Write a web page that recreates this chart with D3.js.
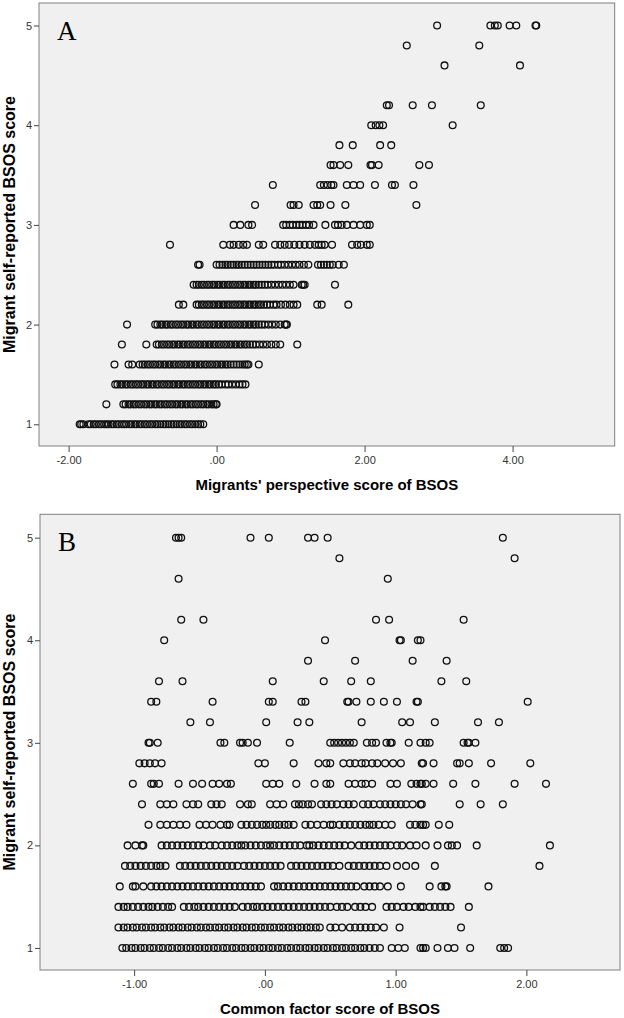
<!DOCTYPE html>
<html><head><meta charset="utf-8">
<script src="https://cdn.jsdelivr.net/npm/d3@7"></script>
<style>body{margin:0;background:#fff}svg{display:block}</style>
</head><body><svg id="c" width="624" height="1018"></svg>
<script>
const levelsA = [5.0, 4.8, 4.6, 4.4, 4.2, 4.0, 3.8, 3.6, 3.4, 3.2, 3.0, 2.8, 2.6, 2.4, 2.2, 2.0, 1.8, 1.6, 1.4, 1.2, 1.0];
const scoresA = [
 [2.98, 3.70, 3.76, 3.80, 3.96, 4.05, 4.31, 4.32],
 [2.57, 3.55],
 [3.08, 4.10],
 [],
 [2.30, 2.33, 2.65, 2.91, 3.57],
 [2.09, 2.15, 2.20, 2.25, 3.19],
 [1.66, 1.84, 2.21, 2.36],
 [1.54, 1.58, 1.67, 1.78, 2.08, 2.10, 2.19, 2.74, 2.87],
 [0.76, 1.40, 1.45, 1.50, 1.55, 1.58, 1.76, 1.85, 1.94, 2.14, 2.37, 2.41, 2.66],
 [0.52, 1.00, 1.04, 1.11, 1.31, 1.36, 1.40, 1.54, 1.74, 2.70],
 [0.23, 0.32, 0.43, 0.48, 0.90, 0.94, 0.99, 1.03, 1.08, 1.12, 1.16, 1.21, 1.25, 1.31, 1.47, 1.60, 1.64, 1.69, 1.76, 1.85, 1.94, 2.03, 2.07],
 [-0.63, 0.09, 0.18, 0.23, 0.30, 0.36, 0.41, 0.57, 0.63, 0.79, 0.86, 0.92, 0.98, 1.05, 1.12, 1.19, 1.26, 1.33, 1.38, 1.42, 1.46, 1.56, 1.83, 1.90, 1.95, 2.03, 2.07],
 [-0.25, -0.23, 0.00, 0.04, 0.08, 0.12, 0.15, 0.19, 0.23, 0.27, 0.30, 0.34, 0.38, 0.42, 0.46, 0.50, 0.54, 0.58, 0.62, 0.66, 0.70, 0.74, 0.78, 0.83, 0.87, 0.92, 0.97, 1.02, 1.07, 1.12, 1.18, 1.24, 1.37, 1.41, 1.45, 1.49, 1.53, 1.57, 1.65, 1.72],
 [-0.31, -0.27, -0.24, -0.20, -0.17, -0.13, -0.10, -0.06, -0.03, 0.01, 0.04, 0.08, 0.11, 0.15, 0.18, 0.22, 0.25, 0.29, 0.32, 0.36, 0.39, 0.43, 0.46, 0.50, 0.53, 0.57, 0.61, 0.65, 0.69, 0.74, 0.79, 0.84, 0.89, 0.94, 0.99, 1.04, 1.15, 1.17, 1.19, 1.60],
 [-0.51, -0.45, -0.27, -0.24, -0.20, -0.17, -0.13, -0.10, -0.06, -0.03, 0.01, 0.04, 0.08, 0.11, 0.15, 0.18, 0.22, 0.25, 0.29, 0.32, 0.36, 0.39, 0.43, 0.46, 0.50, 0.53, 0.57, 0.60, 0.64, 0.68, 0.72, 0.77, 0.81, 0.87, 0.93, 0.99, 1.04, 1.09, 1.36, 1.42, 1.78],
 [-1.21, -0.83, -0.80, -0.76, -0.73, -0.69, -0.66, -0.62, -0.59, -0.55, -0.52, -0.48, -0.45, -0.41, -0.38, -0.34, -0.31, -0.27, -0.24, -0.20, -0.17, -0.13, -0.10, -0.06, -0.03, 0.01, 0.04, 0.08, 0.11, 0.15, 0.18, 0.22, 0.25, 0.29, 0.32, 0.36, 0.39, 0.43, 0.46, 0.50, 0.53, 0.57, 0.61, 0.65, 0.70, 0.75, 0.80, 0.86, 0.92, 0.94, 0.95],
 [-1.28, -0.95, -0.81, -0.78, -0.74, -0.71, -0.67, -0.64, -0.60, -0.57, -0.53, -0.50, -0.46, -0.43, -0.39, -0.36, -0.32, -0.29, -0.25, -0.22, -0.18, -0.15, -0.11, -0.08, -0.04, -0.01, 0.03, 0.06, 0.10, 0.13, 0.17, 0.20, 0.24, 0.27, 0.31, 0.34, 0.38, 0.41, 0.45, 0.49, 0.53, 0.58, 0.63, 0.68, 0.74, 0.80, 0.86, 1.09],
 [-1.38, -1.19, -1.14, -1.04, -1.00, -0.97, -0.93, -0.90, -0.86, -0.83, -0.79, -0.76, -0.72, -0.69, -0.65, -0.62, -0.58, -0.55, -0.51, -0.48, -0.44, -0.41, -0.37, -0.34, -0.30, -0.27, -0.23, -0.20, -0.16, -0.13, -0.09, -0.06, -0.02, 0.01, 0.05, 0.08, 0.12, 0.15, 0.19, 0.23, 0.27, 0.31, 0.35, 0.38, 0.41, 0.43, 0.57],
 [-1.37, -1.34, -1.30, -1.27, -1.23, -1.20, -1.16, -1.13, -1.09, -1.06, -1.02, -0.99, -0.95, -0.92, -0.88, -0.85, -0.81, -0.78, -0.74, -0.71, -0.67, -0.64, -0.60, -0.57, -0.53, -0.50, -0.46, -0.43, -0.39, -0.36, -0.32, -0.29, -0.25, -0.22, -0.18, -0.15, -0.11, -0.08, -0.04, -0.01, 0.03, 0.07, 0.12, 0.16, 0.21, 0.26, 0.31, 0.35, 0.39],
 [-1.49, -1.26, -1.23, -1.19, -1.16, -1.12, -1.09, -1.05, -1.02, -0.98, -0.95, -0.91, -0.88, -0.84, -0.81, -0.77, -0.74, -0.70, -0.67, -0.63, -0.60, -0.56, -0.53, -0.49, -0.46, -0.42, -0.39, -0.35, -0.32, -0.28, -0.25, -0.21, -0.18, -0.14, -0.11, -0.07, -0.04, -0.01, 0.00],
 [-1.85, -1.83, -1.80, -1.73, -1.70, -1.66, -1.63, -1.59, -1.56, -1.52, -1.49, -1.46, -1.42, -1.39, -1.35, -1.32, -1.28, -1.25, -1.22, -1.18, -1.15, -1.11, -1.08, -1.04, -1.01, -0.97, -0.94, -0.90, -0.87, -0.83, -0.80, -0.76, -0.72, -0.69, -0.65, -0.61, -0.58, -0.54, -0.50, -0.47, -0.43, -0.40, -0.36, -0.33, -0.29, -0.25, -0.22, -0.18]
];

const levelsB = [5.0, 4.8, 4.6, 4.4, 4.2, 4.0, 3.8, 3.6, 3.4, 3.2, 3.0, 2.8, 2.6, 2.4, 2.2, 2.0, 1.8, 1.6, 1.4, 1.2, 1.0];
const scoresB = [
 [-0.68, -0.66, -0.64, -0.11, 0.03, 0.33, 0.38, 0.48, 1.82],
 [0.57, 1.91],
 [-0.66, 0.94],
 [],
 [-0.64, -0.47, 0.85, 0.95, 1.52],
 [-0.77, 0.46, 1.03, 1.04, 1.17, 1.19],
 [0.33, 0.69, 1.13, 1.39],
 [-0.81, -0.63, 0.06, 0.45, 0.66, 0.81, 1.35, 1.54],
 [-0.87, -0.83, -0.40, 0.03, 0.06, 0.28, 0.31, 0.63, 0.64, 0.70, 0.81, 0.91, 1.01, 1.16, 1.17, 2.01],
 [-0.57, -0.42, 0.01, 0.25, 0.34, 0.74, 1.05, 1.11, 1.30, 1.63, 1.79],
 [-0.89, -0.88, -0.82, -0.34, -0.31, -0.19, -0.17, -0.13, -0.06, 0.19, 0.50, 0.53, 0.56, 0.59, 0.62, 0.65, 0.68, 0.78, 0.82, 0.85, 0.93, 0.96, 0.97, 1.10, 1.19, 1.23, 1.26, 1.52, 1.55, 1.56, 1.61],
 [-0.96, -0.92, -0.88, -0.84, -0.79, -0.05, 0.00, 0.22, 0.41, 0.47, 0.50, 0.60, 0.65, 0.69, 0.74, 0.77, 0.82, 0.86, 0.92, 0.98, 1.04, 1.20, 1.21, 1.29, 1.47, 1.49, 1.56, 1.73, 2.03],
 [-1.01, -0.87, -0.85, -0.81, -0.66, -0.55, -0.48, -0.40, -0.35, -0.29, -0.26, 0.01, 0.06, 0.11, 0.24, 0.38, 0.47, 0.50, 0.64, 0.69, 0.74, 0.77, 0.82, 0.96, 1.01, 1.12, 1.16, 1.19, 1.20, 1.23, 1.29, 1.44, 1.61, 1.91, 2.15],
 [-0.94, -0.80, -0.75, -0.70, -0.60, -0.55, -0.51, -0.41, -0.37, -0.33, -0.19, -0.13, -0.10, 0.04, 0.09, 0.14, 0.23, 0.26, 0.29, 0.33, 0.36, 0.43, 0.47, 0.51, 0.55, 0.60, 0.64, 0.68, 0.75, 0.79, 0.83, 0.88, 0.92, 0.96, 1.00, 1.04, 1.08, 1.13, 1.19, 1.20, 1.49, 1.65, 1.82],
 [-0.89, -0.80, -0.75, -0.70, -0.65, -0.60, -0.50, -0.45, -0.40, -0.34, -0.29, -0.27, -0.18, -0.14, -0.10, -0.06, -0.02, 0.01, 0.04, 0.08, 0.11, 0.15, 0.18, 0.22, 0.31, 0.35, 0.40, 0.45, 0.50, 0.52, 0.57, 0.61, 0.65, 0.69, 0.73, 0.77, 0.80, 0.83, 0.87, 0.92, 0.97, 1.11, 1.15, 1.19, 1.21, 1.23, 1.33, 1.41],
 [-1.05, -0.99, -0.94, -0.93, -0.79, -0.75, -0.71, -0.67, -0.63, -0.59, -0.55, -0.51, -0.47, -0.42, -0.38, -0.33, -0.29, -0.25, -0.21, -0.18, -0.15, -0.11, -0.07, -0.03, 0.01, 0.04, 0.07, 0.11, 0.15, 0.19, 0.23, 0.27, 0.32, 0.34, 0.37, 0.41, 0.45, 0.49, 0.53, 0.57, 0.61, 0.66, 0.72, 0.76, 0.80, 0.84, 0.88, 0.92, 0.96, 1.01, 1.05, 1.11, 1.16, 1.23, 1.32, 1.40, 1.43, 1.47, 1.62, 2.18],
 [-1.07, -1.03, -0.99, -0.95, -0.91, -0.87, -0.83, -0.80, -0.76, -0.65, -0.61, -0.57, -0.53, -0.49, -0.45, -0.41, -0.37, -0.33, -0.29, -0.25, -0.21, -0.16, -0.12, -0.08, -0.04, 0.00, 0.04, 0.08, 0.12, 0.20, 0.24, 0.28, 0.32, 0.36, 0.40, 0.44, 0.48, 0.52, 0.57, 0.64, 0.68, 0.72, 0.76, 0.80, 0.84, 0.88, 0.93, 1.01, 1.08, 1.15, 1.30, 2.10],
 [-1.11, -1.01, -0.99, -0.93, -0.87, -0.83, -0.79, -0.75, -0.71, -0.67, -0.63, -0.59, -0.55, -0.51, -0.47, -0.43, -0.39, -0.35, -0.31, -0.27, -0.23, -0.19, -0.15, -0.11, -0.07, -0.03, 0.07, 0.10, 0.14, 0.18, 0.22, 0.26, 0.30, 0.34, 0.38, 0.42, 0.46, 0.50, 0.54, 0.58, 0.62, 0.66, 0.70, 0.76, 0.80, 0.84, 0.88, 0.94, 1.04, 1.26, 1.35, 1.38, 1.39, 1.71],
 [-1.12, -1.08, -1.05, -1.01, -0.97, -0.93, -0.89, -0.86, -0.82, -0.78, -0.74, -0.71, -0.62, -0.58, -0.54, -0.51, -0.47, -0.43, -0.39, -0.35, -0.31, -0.27, -0.23, -0.17, -0.13, -0.09, -0.06, -0.02, 0.02, 0.06, 0.10, 0.14, 0.18, 0.22, 0.26, 0.30, 0.34, 0.38, 0.42, 0.46, 0.50, 0.55, 0.59, 0.63, 0.69, 0.73, 0.77, 0.82, 0.93, 0.97, 1.01, 1.06, 1.10, 1.15, 1.19, 1.21, 1.26, 1.30, 1.34, 1.38, 1.42, 1.56],
 [-1.12, -1.08, -1.05, -1.01, -0.98, -0.94, -0.91, -0.87, -0.84, -0.80, -0.77, -0.73, -0.70, -0.66, -0.63, -0.59, -0.56, -0.52, -0.49, -0.45, -0.42, -0.38, -0.35, -0.31, -0.28, -0.24, -0.21, -0.17, -0.14, -0.10, -0.07, -0.03, 0.00, 0.04, 0.07, 0.11, 0.14, 0.18, 0.21, 0.25, 0.28, 0.32, 0.35, 0.39, 0.42, 0.50, 0.54, 0.59, 0.65, 0.69, 0.73, 0.77, 0.81, 0.85, 0.91, 1.03, 1.50],
 [-1.09, -1.06, -1.02, -0.99, -0.95, -0.92, -0.88, -0.85, -0.81, -0.78, -0.74, -0.71, -0.67, -0.64, -0.60, -0.57, -0.53, -0.50, -0.46, -0.43, -0.39, -0.36, -0.32, -0.29, -0.25, -0.22, -0.18, -0.15, -0.11, -0.08, -0.04, -0.01, 0.03, 0.06, 0.10, 0.13, 0.17, 0.20, 0.24, 0.27, 0.31, 0.34, 0.38, 0.41, 0.45, 0.48, 0.52, 0.55, 0.59, 0.62, 0.66, 0.69, 0.73, 0.76, 0.80, 0.84, 0.88, 0.97, 1.02, 1.07, 1.19, 1.21, 1.23, 1.32, 1.40, 1.45, 1.57, 1.80, 1.83, 1.86]
];

const yTicks = [1, 2, 3, 4, 5];
const xTicksA = [-2, 0, 2, 4];
const xTickLabelsA = ["-2.00", ".00", "2.00", "4.00"];
const xTicksB = [-1, 0, 1, 2];
const xTickLabelsB = ["-1.00", ".00", "1.00", "2.00"];
const yTitle = "Migrant self-reported BSOS score";
const xTitleA = "Migrants' perspective score of BSOS";
const xTitleB = "Common factor score of BSOS";

const svg = d3.select("#c");
const sans = "Arial, 'Liberation Sans', sans-serif";

function panel(cfg) {
  const {left, right, top, bottom, xDomain, yDomain, levels, scores, xTicks, xLabels, xTitle, letter} = cfg;
  const x = d3.scaleLinear().domain(xDomain).range([left, right]);
  const y = d3.scaleLinear().domain(yDomain).range([bottom, top]);
  const g = svg.append("g");
  g.append("rect").attr("x", left).attr("y", top).attr("width", right - left).attr("height", bottom - top)
    .attr("fill", "#f0f0f0").attr("stroke", "#808080").attr("stroke-width", 1);

  const pts = [];
  levels.forEach((lv, i) => scores[i].forEach(v => pts.push([v, lv])));
  g.append("g").selectAll("circle").data(pts).join("circle")
    .attr("cx", d => x(d[0])).attr("cy", d => y(d[1])).attr("r", 3.4)
    .attr("fill", "none").attr("stroke", "#111").attr("stroke-width", 1.3);

  const ax = g.append("g").attr("transform", `translate(0,${bottom})`)
    .call(d3.axisBottom(x).tickValues(xTicks).tickSize(6).tickPadding(4).tickFormat((d, i) => xLabels[i]));
  const ay = g.append("g").attr("transform", `translate(${left},0)`)
    .call(d3.axisLeft(y).tickValues(yTicks).tickSize(5).tickPadding(2).tickFormat(d3.format("d")));
  [ax, ay].forEach(a => {
    a.select(".domain").remove();
    a.selectAll("line").attr("stroke", "#444");
    a.selectAll("text").attr("fill", "#333").style("font-family", sans).style("font-size", "11px");
  });

  g.append("text").attr("x", (left + right) / 2).attr("y", bottom + 44).attr("text-anchor", "middle")
    .style("font-family", sans).style("font-weight", "bold").style("font-size", "15px")
    .text(xTitle);
  g.append("text").attr("transform", `translate(15,${(top + bottom) / 2}) rotate(-90)`).attr("text-anchor", "middle")
    .style("font-family", sans).style("font-weight", "bold").style("font-size", "16px")
    .text(yTitle);
  g.append("text").attr("x", left + 18).attr("y", top + 37)
    .style("font-family", "'Liberation Serif', 'Times New Roman', serif").style("font-size", "27px").attr("fill", "#000")
    .text(letter);
}

panel({left: 39, right: 614.7, top: 3, bottom: 446, xDomain: [-2.40, 5.38], yDomain: [0.782, 5.226],
  levels: levelsA, scores: scoresA, xTicks: xTicksA, xLabels: xTickLabelsA, xTitle: xTitleA, letter: "A"});
panel({left: 40, right: 620, top: 514.3, bottom: 970, xDomain: [-1.72, 2.716], yDomain: [0.785, 5.228],
  levels: levelsB, scores: scoresB, xTicks: xTicksB, xLabels: xTickLabelsB, xTitle: xTitleB, letter: "B"});
</script></body></html>
